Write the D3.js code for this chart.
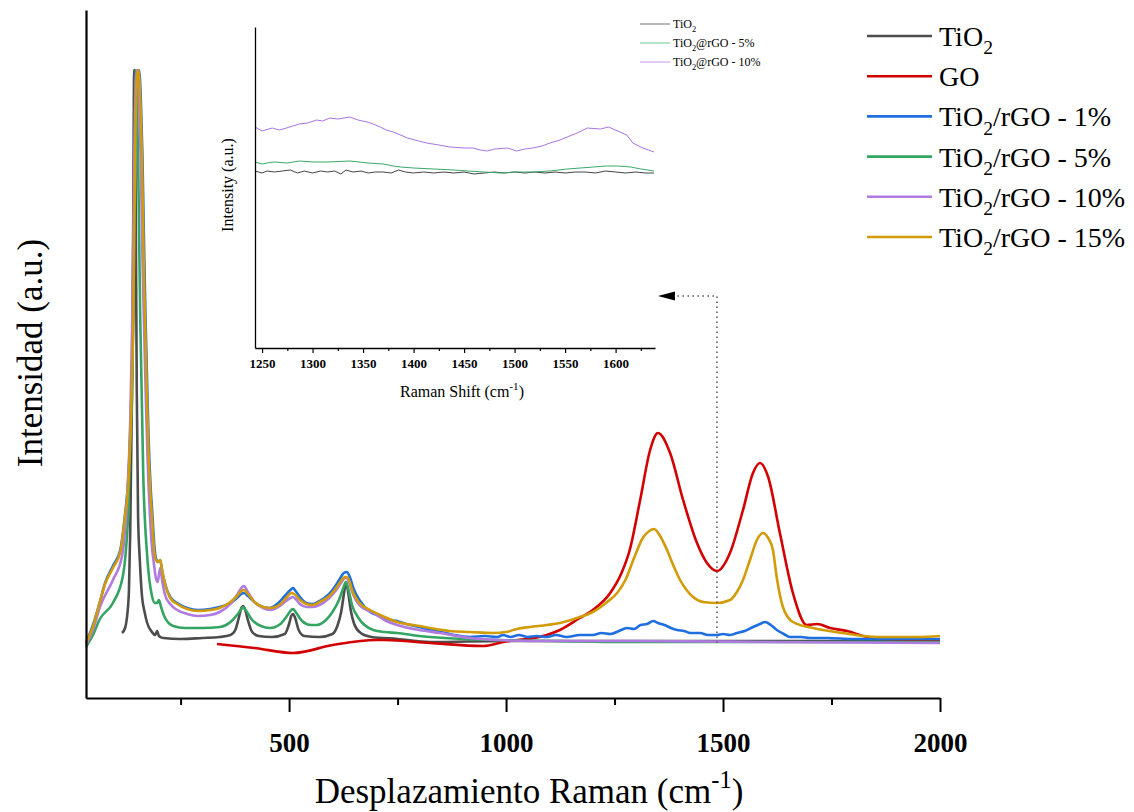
<!DOCTYPE html>
<html><head><meta charset="utf-8">
<script src="https://cdn.jsdelivr.net/npm/d3@7"></script>
<style>
body{margin:0;background:#fff}
svg{display:block}
text{font-family:"Liberation Serif","Times New Roman",serif;fill:#000}
</style>
</head><body>
<svg id="chart" width="1134" height="812"></svg>
<script>
// ---------------- DATA (Raman shift cm-1, intensity a.u.) ----------------
const seriesNames = ["TiO2", "GO", "TiO2/rGO - 1%", "TiO2/rGO - 5%", "TiO2/rGO - 10%", "TiO2/rGO - 15%"];

const tio2 = [[115,7],[122,12],[127,25],[131,50],[134,110],[138,250],[141,430],[143,570],[145,520],[147,400],[149,250],[152,124],[156,80],[161,44],[167,28],[173,17],[184,8],[191,5],[196,9],[200,4],[210,2],[250,1],[300,2],[340,3],[365,5],[376,10],[384,22],[390,32],[394,34],[399,30],[405,20],[415,8],[430,4],[460,3],[490,6],[500,16],[505,24],[509,26],[514,22],[522,10],[535,4],[570,3],[600,6],[612,15],[620,28],[627,48],[631,58],[636,48],[642,30],[650,16],[665,7],[690,3],[750,1],[825,-2],[1000,-1],[1300,-1],[1600,-1],[2000,-1]];

const go = [[334,-4],[420,-8],[509,-13],[601,-5],[700,0],[720,0],[825,-3],[947,-6],[993,-2],[1094,5],[1124,10],[1170,22],[1200,30],[1240,47],[1265,66],[1285,90],[1309,140],[1332,190],[1350,207],[1378,187],[1408,140],[1440,97],[1463,77],[1486,69],[1516,87],[1546,130],[1569,167],[1585,177],[1604,163],[1631,107],[1661,47],[1693,15],[1717,16],[1747,12],[1786,9],[1832,3],[1878,1],[2000,0]];

const rgo1 = [[32,-3],[48,15],[64,38],[76,57],[94,74],[111,90],[122,126],[130,165],[136,235],[141,325],[145,485],[150,565],[154,570],[158,545],[162,485],[166,390],[169,325],[173,255],[176,205],[181,152],[185,126],[189,97],[193,82],[198,78],[203,80],[208,68],[215,55],[226,43],[242,37],[265,32],[290,30],[318,31],[340,33],[365,37],[380,42],[390,46],[396,47],[405,44],[420,38],[440,33],[456,32],[475,37],[490,44],[503,50],[509,52],[515,49],[525,43],[540,37],[555,36],[570,39],[590,45],[605,53],[618,62],[626,67],[633,68],[640,63],[648,52],[662,40],[687,28],[710,24],[735,20],[749,19],[770,16],[800,13],[825,10],[850,8],[880,5],[917,3],[950,4],[980,3],[993,5],[1010,3],[1030,5],[1050,3],[1070,4],[1094,3],[1115,5],[1140,3],[1170,5],[1200,5],[1220,7],[1240,6],[1260,9],[1279,12],[1295,11],[1310,15],[1325,16],[1339,19],[1350,17],[1365,15],[1380,12],[1394,10],[1410,9],[1425,7],[1447,7],[1465,5],[1486,5],[1500,6],[1516,5],[1532,7],[1550,9],[1569,13],[1585,16],[1597,18],[1610,15],[1624,10],[1640,6],[1654,3],[1680,3],[1700,2],[1740,2],[1800,1],[1900,1],[2000,1]];

const rgo5 = [[32,-7],[48,5],[64,21],[94,37],[117,64],[124,90],[129,124],[134,200],[138,243],[143,441],[147,570],[152,481],[157,322],[164,164],[173,84],[184,44],[191,37],[196,37],[200,40],[205,33],[212,24],[233,14],[260,12],[300,12],[341,13],[365,18],[380,25],[390,31],[394,33],[400,30],[415,20],[435,14],[456,12],[480,16],[495,24],[505,30],[509,31],[515,28],[530,19],[550,15],[564,15],[585,20],[600,28],[615,40],[625,52],[631,58],[637,50],[645,35],[660,22],[694,10],[720,8],[749,7],[800,4],[825,3],[900,1],[979,0],[1100,-1],[1300,-2],[1600,-2],[2000,-2]];

const rgo10 = [[32,-5],[48,10],[64,33],[94,60],[115,84],[127,144],[134,220],[139,330],[143,470],[147,560],[150,570],[154,545],[158,480],[162,385],[166,310],[170,240],[174,180],[179,128],[183,98],[188,78],[193,62],[197,58],[203,72],[208,58],[215,44],[226,36],[242,30],[265,26],[290,24],[318,25],[340,28],[365,36],[380,45],[390,52],[396,54],[405,48],[420,38],[440,32],[456,30],[475,33],[490,38],[503,42],[509,43],[515,41],[525,36],[540,33],[555,33],[570,35],[590,41],[605,48],[618,56],[626,61],[631,63],[638,58],[648,45],[662,35],[694,27],[720,20],[749,15],[800,10],[848,7],[917,2],[980,0],[1055,-1],[1300,-1],[1600,-2],[2000,-3]];

const rgo15 = [[32,-3],[48,13],[62,35],[76,56],[94,72],[111,88],[122,124],[130,160],[136,230],[141,322],[145,481],[149,560],[153,570],[157,540],[161,481],[165,380],[168,322],[172,250],[175,203],[180,150],[184,124],[188,95],[193,80],[198,78],[203,80],[208,68],[215,55],[226,42],[242,36],[265,31],[290,29],[318,30],[340,32],[365,38],[380,44],[390,49],[396,50],[405,46],[420,38],[440,33],[456,32],[480,36],[495,43],[505,47],[512,46],[525,40],[540,36],[555,35],[570,38],[590,43],[605,50],[618,58],[625,62],[631,63],[638,60],[645,50],[660,38],[687,30],[710,25],[749,18],[800,14],[825,12],[870,9],[917,8],[970,7],[1000,8],[1025,11],[1055,13],[1094,15],[1124,17],[1170,23],[1200,28],[1233,38],[1256,47],[1275,60],[1295,82],[1315,102],[1330,109],[1341,111],[1355,104],[1371,90],[1386,74],[1401,60],[1416,50],[1431,43],[1454,38],[1486,37],[1516,40],[1532,48],[1546,60],[1562,80],[1578,100],[1592,107],[1604,102],[1615,90],[1624,62],[1638,33],[1661,18],[1707,12],[1776,7],[1855,3],[1950,3],[2000,4]];

const mainSeries = [tio2, go, rgo1, rgo5, rgo10, rgo15];

const xTickValues = [500, 1000, 1500, 2000];
const xMinorTickValues = [250, 750, 1250, 1750];

// inset (1240-1640 cm-1)
const insetNames = ["TiO2", "TiO2@rGO - 5%", "TiO2@rGO - 10%"];
const insetTiO2 = [[1243,177],[1250,175],[1255,177],[1262,176],[1270,177],[1278,178],[1285,175],[1292,177],[1300,175],[1308,177],[1315,176],[1322,177],[1328,174],[1333,178],[1340,176],[1348,177],[1355,175],[1362,176],[1370,176],[1378,175],[1385,178],[1392,176],[1400,175],[1410,176],[1420,175],[1430,176],[1440,175],[1450,176],[1460,174],[1470,175],[1480,176],[1490,175],[1500,176],[1510,175],[1520,176],[1530,175],[1540,176],[1550,175],[1560,176],[1570,176],[1580,175],[1590,177],[1600,176],[1610,175],[1620,176],[1630,175],[1638,175]];
const insetRgo5 = [[1243,186],[1250,184],[1255,185],[1262,186],[1275,185],[1287,187],[1300,186],[1315,186],[1337,187],[1355,185],[1370,184],[1380,182],[1387,181],[1400,180],[1420,179],[1440,178],[1454,177],[1470,176],[1486,175],[1500,176],[1519,176],[1535,177],[1552,179],[1565,180],[1578,181],[1590,182],[1602,182],[1615,181],[1625,179],[1638,177]];
const insetRgo10 = [[1243,221],[1250,217],[1260,220],[1267,218],[1274,220],[1287,224],[1295,225],[1304,228],[1310,227],[1317,230],[1325,229],[1337,231],[1345,228],[1354,226],[1360,224],[1367,221],[1373,218],[1380,216],[1394,210],[1405,207],[1413,205],[1425,203],[1436,201],[1450,200],[1459,200],[1466,198],[1473,197],[1480,199],[1493,200],[1502,197],[1510,199],[1518,200],[1527,202],[1535,205],[1545,208],[1552,211],[1562,215],[1572,220],[1585,219],[1593,221],[1602,217],[1611,213],[1617,205],[1627,200],[1638,196]];
const insetSeries = [insetTiO2, insetRgo5, insetRgo10];

const insetTickValues = [1250, 1300, 1350, 1400, 1450, 1500, 1550, 1600];
const insetMinorTickValues = [1275, 1325, 1375, 1425, 1475, 1525, 1575, 1625];

// annotation arrow (main-plot data coordinates)
const arrowPath = [[1486,-3],[1486,344],[1389,344]];
const arrowTip = [1350,344];

// ---------------- STYLES ----------------
const mainColors = ["#4d4d4d", "#d30000", "#1f6fe0", "#33a462", "#b07be0", "#d29b08"];
const insetColors = ["#444444", "#3aa869", "#a874e0"];
const insetLegendColors = ["#8a8a8a", "#86d3a6", "#cfa6ef"];

// ---------------- DRAW ----------------
const svg = d3.select("#chart");

const x = d3.scaleLinear().domain([32, 2000]).range([86, 940]);
const y = d3.scaleLinear().domain([-58, 630]).range([698, 10]);

function writeLabel(sel, label, fs) {
  const i = label.indexOf("TiO2");
  if (i < 0) { sel.text(label); return; }
  if (i > 0) sel.append("tspan").text(label.slice(0, i));
  sel.append("tspan").text("TiO");
  sel.append("tspan").attr("font-size", fs * 0.7).attr("dy", fs * 0.3).text("2");
  const rest = label.slice(i + 4);
  if (rest) sel.append("tspan").attr("font-size", fs).attr("dy", -fs * 0.3).text(rest);
}
function writeSup(sel, pre, sup, post, fs) {
  sel.append("tspan").text(pre);
  sel.append("tspan").attr("font-size", fs * 0.7).attr("dy", -fs * 0.42).text(sup);
  sel.append("tspan").attr("font-size", fs).attr("dy", fs * 0.42).text(post);
}

// main lines
const line = d3.line().x(d => x(d[0])).y(d => y(d[1])).curve(d3.curveMonotoneX);
mainSeries.forEach((s, i) => {
  svg.append("path").datum(s).attr("d", line)
    .attr("fill", "none").attr("stroke", mainColors[i])
    .attr("stroke-width", 2.6).attr("stroke-linejoin", "round");
});

// main axes
const gx = svg.append("g").attr("transform", `translate(0,${y.range()[0]})`)
  .call(d3.axisBottom(x).tickValues(xTickValues).tickSize(14).tickSizeOuter(0).tickPadding(21).tickFormat(d3.format("d")));
gx.select(".domain").attr("stroke-width", 2.2);
gx.selectAll(".tick line").attr("stroke-width", 2);
gx.selectAll(".tick text").attr("font-family", "Liberation Serif").attr("font-weight", "bold").attr("font-size", 27).attr("fill", "#000");
const gxm = svg.append("g").attr("transform", `translate(0,${y.range()[0]})`)
  .call(d3.axisBottom(x).tickValues(xMinorTickValues).tickSize(7).tickSizeOuter(0).tickFormat(""));
gxm.select(".domain").remove();
gxm.selectAll(".tick line").attr("stroke-width", 2);

const gy = svg.append("g").attr("transform", `translate(${x.range()[0]},0)`)
  .call(d3.axisLeft(y).tickValues([]).tickSizeOuter(0));
gy.select(".domain").attr("stroke-width", 2.2);

// axis titles
const xt = svg.append("text").attr("x", 529).attr("y", 803).attr("text-anchor", "middle").attr("font-size", 35);
writeSup(xt, "Desplazamiento Raman (cm", "-1", ")", 35);
svg.append("text").attr("transform", "translate(30,353) rotate(-90)")
  .attr("text-anchor", "middle").attr("dominant-baseline", "central").attr("font-size", 35)
  .text("Intensidad (a.u.)");

// main legend
seriesNames.forEach((n, i) => {
  const ly = 36 + i * 40.2;
  svg.append("line").attr("x1", 867).attr("x2", 932).attr("y1", ly).attr("y2", ly)
    .attr("stroke", mainColors[i]).attr("stroke-width", 2.6);
  const t = svg.append("text").attr("x", 939).attr("y", ly + 10).attr("font-size", 28);
  writeLabel(t, n, 28);
});

// arrow annotation
svg.append("path").datum(arrowPath)
  .attr("d", d3.line().x(d => x(d[0])).y(d => y(d[1])))
  .attr("fill", "none").attr("stroke", "#555").attr("stroke-width", 1.5)
  .attr("stroke-dasharray", "1.5,3.5");
const tx = x(arrowTip[0]), ty = y(arrowTip[1]);
svg.append("path").attr("d", `M${tx},${ty} L${tx + 17},${ty - 4.5} L${tx + 17},${ty + 4.5} Z`).attr("fill", "#000");

// inset
const xi = d3.scaleLinear().domain([1243, 1639]).range([255, 655]);
const yi = d3.scaleLinear().domain([0, 321]).range([348, 27]);
const lineI = d3.line().x(d => xi(d[0])).y(d => yi(d[1]));
insetSeries.forEach((s, i) => {
  svg.append("path").datum(s).attr("d", lineI)
    .attr("fill", "none").attr("stroke", insetColors[i]).attr("stroke-width", 1);
});
const gxi = svg.append("g").attr("transform", `translate(0,${yi.range()[0]})`)
  .call(d3.axisBottom(xi).tickValues(insetTickValues).tickSize(5).tickSizeOuter(0).tickPadding(6).tickFormat(d3.format("d")));
gxi.select(".domain").attr("stroke-width", 1.3);
gxi.selectAll(".tick line").attr("stroke-width", 1.2);
gxi.selectAll(".tick text").attr("font-family", "Liberation Serif").attr("font-weight", "bold").attr("font-size", 13).attr("fill", "#000");
const gxim = svg.append("g").attr("transform", `translate(0,${yi.range()[0]})`)
  .call(d3.axisBottom(xi).tickValues(insetMinorTickValues).tickSize(3).tickSizeOuter(0).tickFormat(""));
gxim.select(".domain").remove();
gxim.selectAll(".tick line").attr("stroke-width", 1.2);
const gyi = svg.append("g").attr("transform", `translate(${xi.range()[0]},0)`)
  .call(d3.axisLeft(yi).tickValues([]).tickSizeOuter(0));
gyi.select(".domain").attr("stroke-width", 1.3);

const xti = svg.append("text").attr("x", 462).attr("y", 397).attr("text-anchor", "middle").attr("font-size", 16).attr("fill", "#222");
writeSup(xti, "Raman Shift (cm", "-1", ")", 16);
svg.append("text").attr("transform", "translate(227,185) rotate(-90)")
  .attr("text-anchor", "middle").attr("dominant-baseline", "central").attr("font-size", 16).attr("fill", "#222")
  .text("Intensity (a.u.)");

// inset legend
insetNames.forEach((n, i) => {
  const ly = 24 + i * 19;
  svg.append("line").attr("x1", 640).attr("x2", 670).attr("y1", ly).attr("y2", ly)
    .attr("stroke", insetLegendColors[i]).attr("stroke-width", 1.2);
  const t = svg.append("text").attr("x", 673).attr("y", ly + 4).attr("font-size", 12).attr("fill", "#444");
  writeLabel(t, n, 12);
});
</script>
</body></html>
